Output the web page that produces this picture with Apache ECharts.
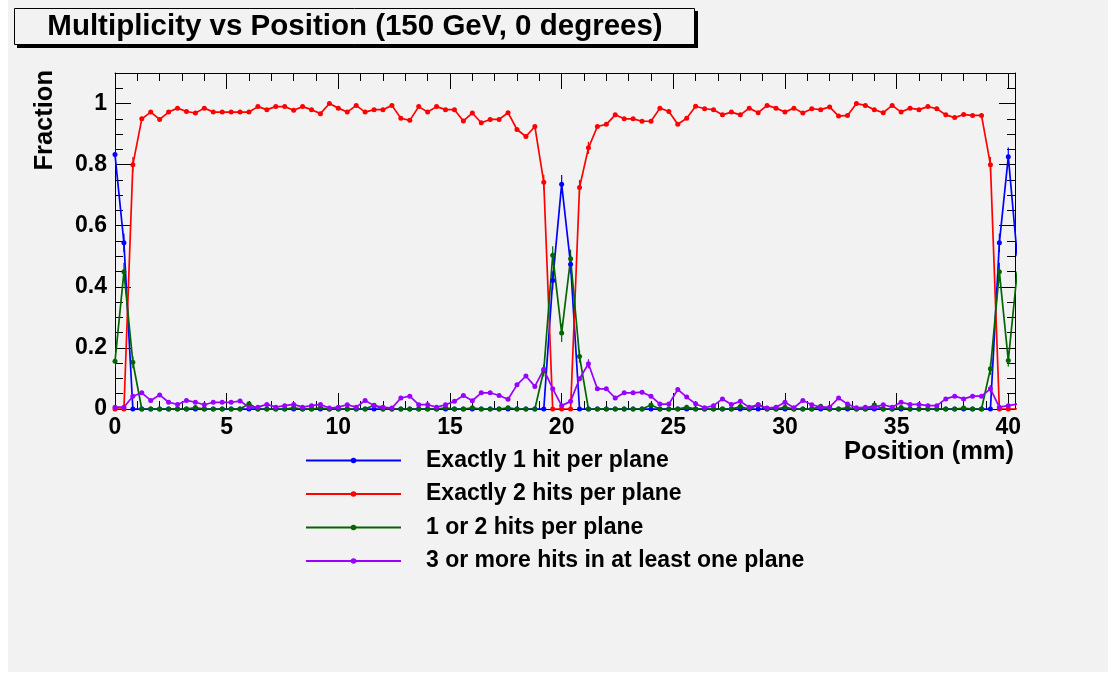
<!DOCTYPE html>
<html>
<head>
<meta charset="utf-8">
<title>Multiplicity vs Position</title>
<script src="https://cdn.jsdelivr.net/npm/echarts@6/dist/echarts.min.js"></script>
<style>
  html, body { margin: 0; padding: 0; background: #ffffff; }
  #chart { width: 1116px; height: 677px; }
</style>
</head>
<body>
<div id="chart"></div>
<script>
// Beam position across the sensor (mm), 0.4 mm steps
const positions = [
  0, 0.4, 0.8, 1.2, 1.6, 2, 2.4, 2.8, 3.2, 3.6,
  4, 4.4, 4.8, 5.2, 5.6, 6, 6.4, 6.8, 7.2, 7.6,
  8, 8.4, 8.8, 9.2, 9.6, 10, 10.4, 10.8, 11.2, 11.6,
  12, 12.4, 12.8, 13.2, 13.6, 14, 14.4, 14.8, 15.2, 15.6,
  16, 16.4, 16.8, 17.2, 17.6, 18, 18.4, 18.8, 19.2, 19.6,
  20, 20.4, 20.8, 21.2, 21.6, 22, 22.4, 22.8, 23.2, 23.6,
  24, 24.4, 24.8, 25.2, 25.6, 26, 26.4, 26.8, 27.2, 27.6,
  28, 28.4, 28.8, 29.2, 29.6, 30, 30.4, 30.8, 31.2, 31.6,
  32, 32.4, 32.8, 33.2, 33.6, 34, 34.4, 34.8, 35.2, 35.6,
  36, 36.4, 36.8, 37.2, 37.6, 38, 38.4, 38.8, 39.2, 39.6,
  40, 40.4
];

// Fraction of events with exactly one hit in every plane
const exactlyOneHit = [
  0.833, 0.544, 0, 0, 0, 0, 0, 0, 0, 0,
  0, 0, 0, 0, 0, 0, 0, 0, 0, 0,
  0, 0, 0, 0, 0, 0, 0, 0, 0, 0,
  0, 0, 0, 0, 0, 0, 0, 0, 0, 0,
  0, 0, 0, 0, 0, 0, 0, 0, 0, 0.421,
  0.736, 0.474, 0, 0, 0, 0, 0, 0, 0, 0,
  0, 0, 0, 0, 0, 0, 0, 0, 0, 0,
  0, 0, 0, 0, 0, 0, 0, 0, 0, 0,
  0, 0, 0, 0, 0, 0, 0, 0, 0, 0,
  0, 0, 0, 0, 0, 0, 0, 0, 0, 0.544,
  0.826, 0.5
];

// Fraction of events with exactly two hits in every plane
const exactlyTwoHits = [
  0, 0, 0.80, 0.950, 0.972, 0.948, 0.972, 0.985, 0.974, 0.969,
  0.985, 0.972, 0.972, 0.972, 0.972, 0.972, 0.990, 0.980, 0.990, 0.990,
  0.978, 0.990, 0.980, 0.967, 1.0, 0.985, 0.972, 0.994, 0.972, 0.980,
  0.980, 0.994, 0.952, 0.945, 0.990, 0.972, 0.990, 0.980, 0.980, 0.943,
  0.969, 0.937, 0.948, 0.948, 0.970, 0.915, 0.892, 0.925, 0.742, 0,
  0, 0, 0.725, 0.855, 0.925, 0.932, 0.963, 0.950, 0.950, 0.942,
  0.942, 0.985, 0.974, 0.932, 0.952, 0.991, 0.983, 0.980, 0.963, 0.972,
  0.963, 0.985, 0.970, 0.994, 0.985, 0.972, 0.985, 0.969, 0.983, 0.980,
  0.989, 0.959, 0.961, 1.0, 0.994, 0.980, 0.970, 0.994, 0.972, 0.985,
  0.980, 0.990, 0.983, 0.963, 0.954, 0.964, 0.961, 0.961, 0.80, 0,
  0, 0
];

// Fraction of events mixing one and two hits across the planes
const oneOrTwoHits = [
  0.156, 0.449, 0.153, 0, 0, 0, 0, 0, 0, 0.005,
  0, 0, 0, 0, 0, 0.017, 0, 0, 0, 0,
  0.004, 0, 0, 0.004, 0, 0, 0, 0, 0, 0.012,
  0, 0, 0, 0, 0, 0, 0, 0.004, 0, 0,
  0.004, 0, 0, 0, 0.004, 0, 0, 0, 0.126, 0.503,
  0.249, 0.492, 0.172, 0, 0, 0, 0, 0, 0, 0,
  0.013, 0, 0, 0, 0.006, 0, 0, 0, 0, 0,
  0.008, 0, 0.014, 0, 0, 0.006, 0, 0, 0, 0.009,
  0, 0, 0.005, 0, 0, 0.013, 0, 0, 0.005, 0,
  0, 0, 0, 0, 0, 0.003, 0, 0, 0.132, 0.449,
  0.159, 0.45
];

// Fraction of events with three or more hits in at least one plane
const threeOrMoreHits = [
  0.006, 0.006, 0.042, 0.053, 0.028, 0.046, 0.022, 0.015, 0.028, 0.022,
  0.014, 0.022, 0.022, 0.022, 0.026, 0.006, 0.006, 0.015, 0.006, 0.011,
  0.015, 0.006, 0.011, 0.015, 0.003, 0.006, 0.014, 0.006, 0.028, 0.011,
  0.006, 0.003, 0.036, 0.042, 0.014, 0.014, 0.006, 0.014, 0.025, 0.044,
  0.027, 0.053, 0.053, 0.044, 0.032, 0.079, 0.108, 0.074, 0.130, 0.066,
  0.011, 0.025, 0.099, 0.148, 0.066, 0.066, 0.036, 0.053, 0.053, 0.055,
  0.042, 0.016, 0.016, 0.064, 0.039, 0.017, 0.004, 0.011, 0.033, 0.015,
  0.025, 0.006, 0.014, 0.003, 0.006, 0.022, 0.004, 0.028, 0.014, 0.006,
  0.006, 0.036, 0.016, 0.004, 0.006, 0.006, 0.014, 0.006, 0.022, 0.015,
  0.015, 0.011, 0.011, 0.033, 0.042, 0.033, 0.042, 0.042, 0.066, 0.006,
  0.011, 0.016
];

// Statistical uncertainties large enough to show beyond the markers: [point index, error]
const exactlyOneHitErrors = [[0, 0.025], [1, 0.03], [49, 0.03], [50, 0.03], [51, 0.03], [99, 0.03], [100, 0.03], [101, 0.03]];
const exactlyTwoHitsErrors = [[2, 0.025], [48, 0.025], [52, 0.025], [53, 0.02], [98, 0.025]];
const oneOrTwoHitsErrors = [[0, 0.02], [1, 0.03], [2, 0.02], [48, 0.02], [49, 0.03], [50, 0.03], [51, 0.03], [52, 0.02], [98, 0.02], [99, 0.03], [100, 0.02], [101, 0.03]];
const threeOrMoreHitsErrors = [[48, 0.015], [53, 0.015], [98, 0.012]];

const seriesNames = [
  'Exactly 1 hit per plane',
  'Exactly 2 hits per plane',
  '1 or 2 hits per plane',
  '3 or more hits in at least one plane'
];
const seriesColors = ['#0000ff', '#ff0000', '#006600', '#9900ff'];

// Axis tick values
const xMajorTicks = [0, 5, 10, 15, 20, 25, 30, 35, 40];
const xMinorTicks = [0, 1, 2, 3, 4, 5, 6, 7, 8, 9, 10, 11, 12, 13, 14, 15, 16, 17, 18, 19, 20,
  21, 22, 23, 24, 25, 26, 27, 28, 29, 30, 31, 32, 33, 34, 35, 36, 37, 38, 39, 40];
const yMajorTicks = [0, 0.2, 0.4, 0.6, 0.8, 1];
const yMinorTicks = [0, 0.05, 0.1, 0.15, 0.2, 0.25, 0.3, 0.35, 0.4, 0.45, 0.5, 0.55,
  0.6, 0.65, 0.7, 0.75, 0.8, 0.85, 0.9, 0.95, 1, 1.05];

const X_MIN = 0, X_MAX = 40.3;
const Y_MIN = 0, Y_MAX = 1.1;

const FONT = '"Liberation Sans", Arial, Helvetica, sans-serif';
const INK = '#000000';
const PAD_BG = '#f2f2f2';

// Frame axes: major and minor tick rows on all four sides, ticks pointing inward
function xAxisDef(position, ticks, len, withLabels, withLine) {
  return {
    type: 'value', min: X_MIN, max: X_MAX, position: position,
    axisLine: { show: withLine, onZero: false, lineStyle: { color: INK, width: 1 } },
    axisTick: { show: true, inside: true, length: len, customValues: ticks,
                lineStyle: { color: INK, width: 1 } },
    axisLabel: withLabels ? {
      show: true, customValues: xMajorTicks, margin: 7, color: INK,
      fontFamily: FONT, fontWeight: 'bold', fontSize: 23
    } : { show: false },
    splitLine: { show: false }
  };
}
function yAxisDef(position, ticks, len, withLabels, withLine) {
  return {
    type: 'value', min: Y_MIN, max: Y_MAX, position: position,
    axisLine: { show: withLine, onZero: false, lineStyle: { color: INK, width: 1 } },
    axisTick: { show: true, inside: true, length: len, customValues: ticks,
                lineStyle: { color: INK, width: 1 } },
    axisLabel: withLabels ? {
      show: true, customValues: yMajorTicks, margin: 8, color: INK,
      fontFamily: FONT, fontWeight: 'bold', fontSize: 23
    } : { show: false },
    splitLine: { show: false }
  };
}

function toPoints(values) {
  return positions.map((x, i) => [x, values[i]]);
}

const allValues = [exactlyOneHit, exactlyTwoHits, oneOrTwoHits, threeOrMoreHits];
const allErrors = [exactlyOneHitErrors, exactlyTwoHitsErrors, oneOrTwoHitsErrors, threeOrMoreHitsErrors];

// Vertical error bars drawn through the axes' own coordinate system
const errorSeries = allErrors.map((errs, k) => ({
  type: 'custom',
  name: seriesNames[k] + ' errors',
  xAxisIndex: 0,
  yAxisIndex: 0,
  clip: true,
  silent: true,
  z: 1,
  data: errs.map(([i, e]) => [positions[i], allValues[k][i] - e, allValues[k][i] + e]),
  renderItem: function (params, api) {
    const lo = api.coord([api.value(0), api.value(1)]);
    const hi = api.coord([api.value(0), api.value(2)]);
    return {
      type: 'line',
      shape: { x1: lo[0], y1: lo[1], x2: hi[0], y2: hi[1] },
      style: { stroke: seriesColors[k], lineWidth: 1.2 }
    };
  }
}));

const lineSeries = allValues.map((vals, k) => ({
  name: seriesNames[k],
  type: 'line',
  xAxisIndex: 0,
  yAxisIndex: 0,
  data: toPoints(vals),
  clip: true,
  symbol: 'circle',
  symbolSize: 5,
  showSymbol: true,
  z: 2,
  color: seriesColors[k],
  lineStyle: { color: seriesColors[k], width: 1.7 },
  itemStyle: { color: seriesColors[k] },
  emphasis: { disabled: true },
  animation: false
}));

const chart = echarts.init(document.getElementById('chart'), null, { renderer: 'canvas' });

chart.setOption({
  animation: false,
  backgroundColor: 'transparent',
  grid: { left: 115, top: 73, width: 900, height: 336, containLabel: false },
  xAxis: [
    xAxisDef('bottom', xMajorTicks, 16, true, true),
    xAxisDef('bottom', xMinorTicks, 8, false, false),
    xAxisDef('top', xMajorTicks, 16, false, true),
    xAxisDef('top', xMinorTicks, 8, false, false)
  ],
  yAxis: [
    yAxisDef('left', yMajorTicks, 16, true, true),
    yAxisDef('left', yMinorTicks, 8, false, false),
    yAxisDef('right', yMajorTicks, 16, false, true),
    yAxisDef('right', yMinorTicks, 8, false, false)
  ],
  legend: {
    orient: 'vertical',
    left: 305,
    top: 449,
    padding: 0,
    itemWidth: 95,
    itemHeight: 7,
    itemGap: 10.5,
    selectedMode: false,
    data: seriesNames,
    textStyle: {
      fontFamily: FONT, fontWeight: 'bold', fontSize: 23, color: INK,
      padding: [0, 0, 0, 20]
    }
  },
  graphic: [
    // pad background
    { type: 'rect', z: -10, silent: true,
      shape: { x: 8, y: 0, width: 1100, height: 672 },
      style: { fill: PAD_BG } },
    // title box with drop shadow
    { type: 'rect', z: -5, silent: true,
      shape: { x: 17, y: 11, width: 681, height: 37 },
      style: { fill: INK } },
    { type: 'rect', z: -4, silent: true,
      shape: { x: 14.5, y: 8.5, width: 680, height: 36 },
      style: { fill: PAD_BG, stroke: INK, lineWidth: 1 } },
    { type: 'text', z: 10, silent: true, x: 355, y: 26.5,
      style: { text: 'Multiplicity vs Position (150 GeV, 0 degrees)',
               font: 'bold 29.5px ' + FONT, fill: INK,
               textAlign: 'center', textVerticalAlign: 'middle' } },
    // axis titles
    { type: 'text', z: 10, silent: true, x: 45, y: 70, rotation: Math.PI / 2,
      style: { text: 'Fraction', font: 'bold 25.5px ' + FONT, fill: INK,
               textAlign: 'right', textVerticalAlign: 'middle' } },
    { type: 'text', z: 10, silent: true, x: 1014, y: 452,
      style: { text: 'Position (mm)', font: 'bold 25.5px ' + FONT, fill: INK,
               textAlign: 'right', textVerticalAlign: 'middle' } }
  ],
  series: errorSeries.concat(lineSeries)
});
</script>
</body>
</html>
